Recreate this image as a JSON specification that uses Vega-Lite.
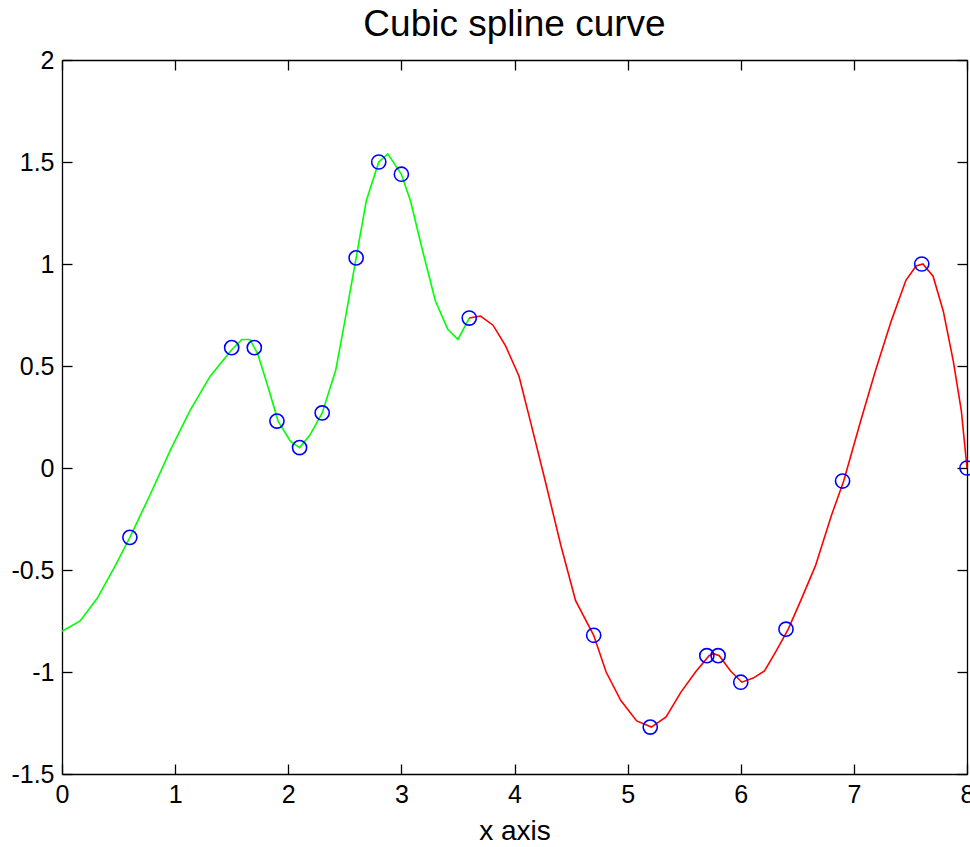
{
  "$schema": "https://vega.github.io/schema/vega-lite/v6.json",
  "autosize": {"type": "none"},
  "padding": {"left": 62, "top": 60, "right": 3, "bottom": 73},
  "width": 905,
  "height": 714,
  "background": "white",
  "title": {"text": "Cubic spline curve", "fontSize": 37, "fontWeight": "normal", "font": "Liberation Sans", "color": "black", "offset": 4},
  "config": {
    "view": {"stroke": null},
    "axis": {"domainColor": "black", "tickColor": "black", "labelColor": "black", "grid": false, "tickSize": -10, "domainWidth": 1.3, "tickWidth": 1.3}
  },
  "datasets": {
    "green": [
      {"x": 0.0, "y": -0.80}, {"x": 0.16, "y": -0.75}, {"x": 0.31, "y": -0.64}, {"x": 0.47, "y": -0.48},
      {"x": 0.60, "y": -0.34}, {"x": 0.78, "y": -0.13}, {"x": 0.96, "y": 0.09}, {"x": 1.13, "y": 0.28},
      {"x": 1.31, "y": 0.45}, {"x": 1.50, "y": 0.58}, {"x": 1.59, "y": 0.63}, {"x": 1.66, "y": 0.63},
      {"x": 1.73, "y": 0.56}, {"x": 1.82, "y": 0.40}, {"x": 1.91, "y": 0.23}, {"x": 2.02, "y": 0.13},
      {"x": 2.10, "y": 0.10}, {"x": 2.19, "y": 0.16}, {"x": 2.30, "y": 0.27}, {"x": 2.42, "y": 0.48},
      {"x": 2.50, "y": 0.72}, {"x": 2.60, "y": 1.03}, {"x": 2.69, "y": 1.31}, {"x": 2.80, "y": 1.50},
      {"x": 2.88, "y": 1.54}, {"x": 3.00, "y": 1.44}, {"x": 3.08, "y": 1.31}, {"x": 3.19, "y": 1.06},
      {"x": 3.30, "y": 0.82}, {"x": 3.41, "y": 0.68}, {"x": 3.50, "y": 0.63}, {"x": 3.60, "y": 0.735}
    ],
    "red": [
      {"x": 3.60, "y": 0.735}, {"x": 3.70, "y": 0.745}, {"x": 3.81, "y": 0.70}, {"x": 3.92, "y": 0.60},
      {"x": 4.04, "y": 0.45}, {"x": 4.14, "y": 0.23}, {"x": 4.27, "y": -0.06}, {"x": 4.41, "y": -0.38},
      {"x": 4.54, "y": -0.65}, {"x": 4.70, "y": -0.82}, {"x": 4.81, "y": -1.00}, {"x": 4.94, "y": -1.14},
      {"x": 5.08, "y": -1.24}, {"x": 5.21, "y": -1.27}, {"x": 5.34, "y": -1.22}, {"x": 5.47, "y": -1.10},
      {"x": 5.60, "y": -1.00}, {"x": 5.72, "y": -0.92}, {"x": 5.76, "y": -0.91}, {"x": 5.81, "y": -0.92},
      {"x": 5.91, "y": -0.995}, {"x": 6.01, "y": -1.05}, {"x": 6.11, "y": -1.03}, {"x": 6.21, "y": -0.995},
      {"x": 6.31, "y": -0.90}, {"x": 6.42, "y": -0.79}, {"x": 6.53, "y": -0.65}, {"x": 6.66, "y": -0.48},
      {"x": 6.80, "y": -0.235}, {"x": 6.91, "y": -0.064}, {"x": 7.06, "y": 0.23}, {"x": 7.19, "y": 0.475},
      {"x": 7.33, "y": 0.72}, {"x": 7.46, "y": 0.92}, {"x": 7.55, "y": 0.99}, {"x": 7.61, "y": 1.0},
      {"x": 7.70, "y": 0.94}, {"x": 7.79, "y": 0.77}, {"x": 7.88, "y": 0.52}, {"x": 7.95, "y": 0.28},
      {"x": 8.0, "y": 0.0}
    ],
    "pts": [
      {"x": 0.6, "y": -0.34}, {"x": 1.5, "y": 0.59}, {"x": 1.7, "y": 0.59}, {"x": 1.9, "y": 0.23},
      {"x": 2.1, "y": 0.10}, {"x": 2.3, "y": 0.27}, {"x": 2.6, "y": 1.03}, {"x": 2.8, "y": 1.50},
      {"x": 3.0, "y": 1.44}, {"x": 3.6, "y": 0.735}, {"x": 4.7, "y": -0.82}, {"x": 5.2, "y": -1.27},
      {"x": 5.7, "y": -0.92}, {"x": 5.8, "y": -0.92}, {"x": 6.0, "y": -1.05}, {"x": 6.4, "y": -0.79},
      {"x": 6.9, "y": -0.064}, {"x": 7.6, "y": 1.0}, {"x": 8.0, "y": 0.0}
    ]
  },
  "resolve": {"axis": {"x": "independent", "y": "independent"}},
  "layer": [
    {
      "data": {"name": "green"},
      "mark": {"type": "line", "color": "#00ff00", "strokeWidth": 1.6, "clip": false},
      "encoding": {
        "x": {"field": "x", "type": "quantitative", "scale": {"domain": [0, 8], "nice": false, "zero": false},
              "axis": {"orient": "bottom", "title": "x axis", "values": [0,1,2,3,4,5,6,7,8], "labelPadding": 18, "titlePadding": 10, "labelFlush": false,
                       "labelExpr": "datum.value + ''", "labelFont": "Liberation Sans", "labelFontSize": 25,
                       "titleFont": "Liberation Sans", "titleFontSize": 28, "titleFontWeight": "normal", "titleColor": "black"}},
        "y": {"field": "y", "type": "quantitative", "scale": {"domain": [-1.5, 2], "nice": false, "zero": false},
              "axis": {"orient": "left", "title": null, "values": [-1.5,-1,-0.5,0,0.5,1,1.5,2], "labelPadding": 18, "labelFlush": false,
                       "labelExpr": "datum.value + ''", "labelFont": "Liberation Sans", "labelFontSize": 25}}
      }
    },
    {
      "data": {"name": "red"},
      "mark": {"type": "line", "color": "#ff0000", "strokeWidth": 1.6, "clip": false},
      "encoding": {
        "x": {"field": "x", "type": "quantitative", "axis": {"orient": "top", "title": null, "labels": false, "values": [0,1,2,3,4,5,6,7,8]}},
        "y": {"field": "y", "type": "quantitative", "axis": {"orient": "right", "title": null, "labels": false, "values": [-1.5,-1,-0.5,0,0.5,1,1.5,2]}}
      }
    },
    {
      "data": {"name": "pts"},
      "mark": {"type": "point", "shape": "circle", "filled": false, "color": "#0000ff", "size": 200, "strokeWidth": 1.6, "opacity": 1, "clip": false},
      "encoding": {
        "x": {"field": "x", "type": "quantitative", "axis": null},
        "y": {"field": "y", "type": "quantitative", "axis": null}
      }
    }
  ]
}
